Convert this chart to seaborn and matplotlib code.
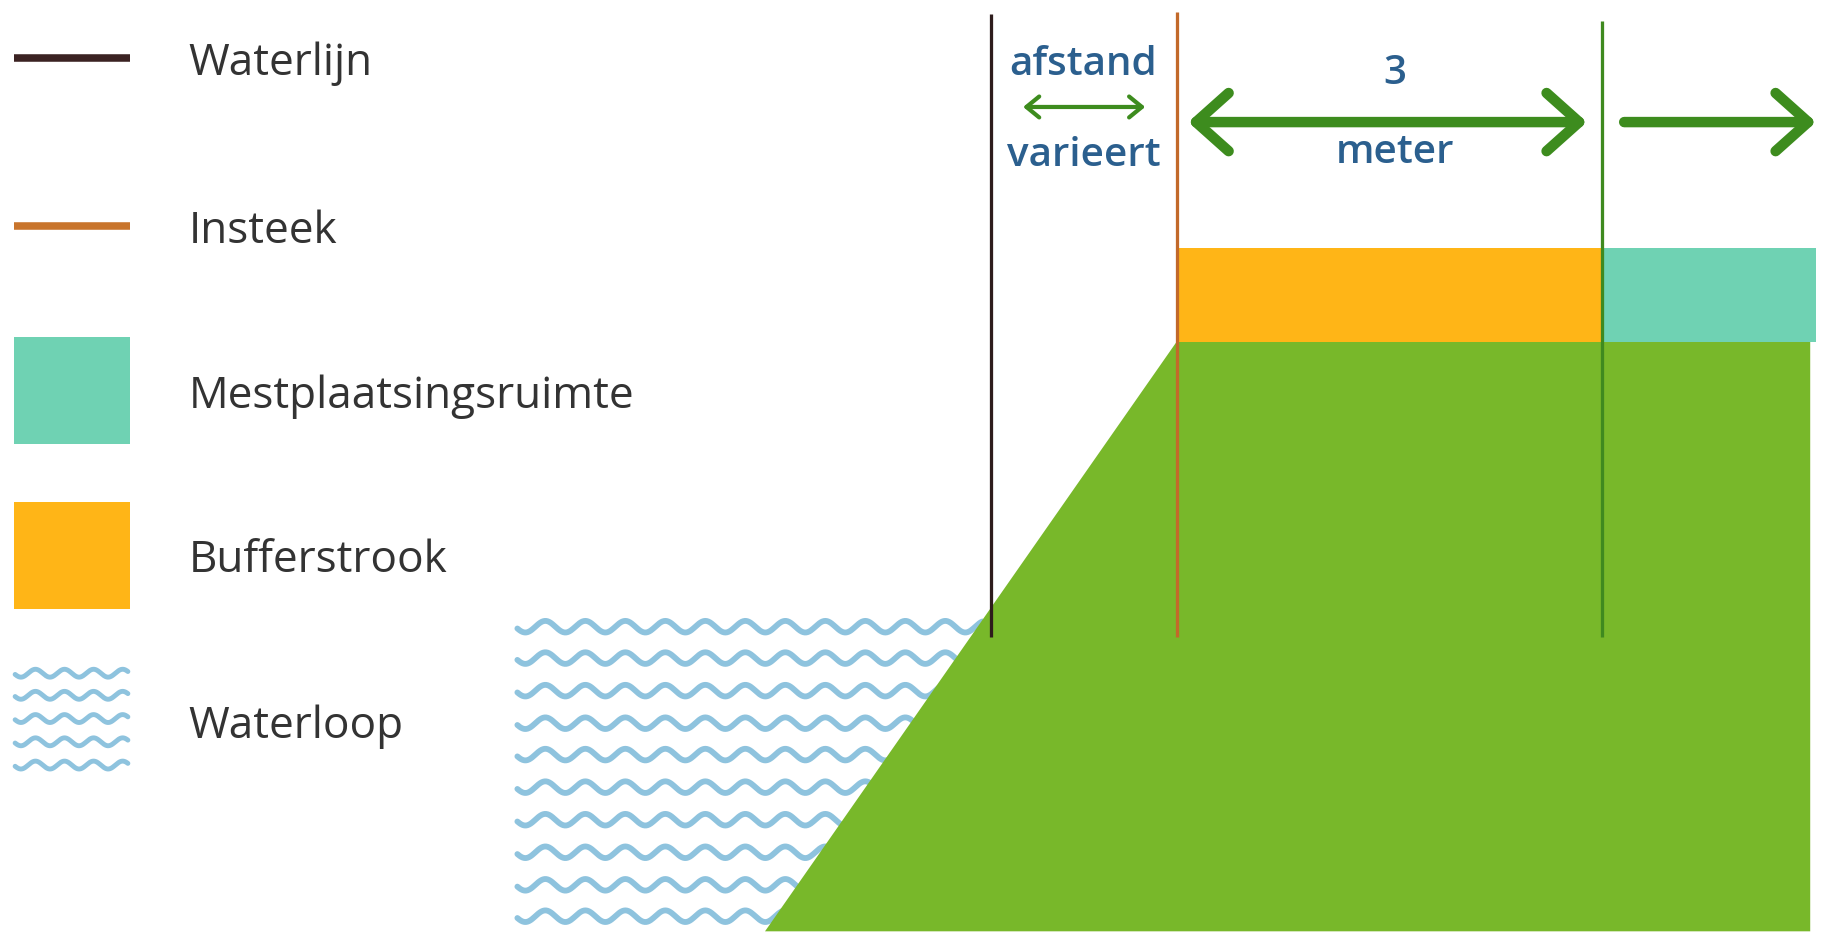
import numpy as np
import matplotlib
matplotlib.use("Agg")
import matplotlib.pyplot as plt
import seaborn as sns
from matplotlib.patches import Polygon, Rectangle, FancyArrowPatch

# ---------------- diagram content (reference units: 1568 x 803) ----------------
legend_labels = ["Waterlijn", "Insteek", "Mestplaatsingsruimte", "Bufferstrook", "Waterloop"]
legend_kinds = ["line", "line", "box", "box", "waves"]
legend_colors = ["#3b2222", "#c8742c", "#6fd2b3", "#ffb517", "#8ec3de"]
legend_y = [50, 194, 336, 478, 620]
legend_text_y = [55, 199, 341, 482, 625]

marker_x = [852, 1012, 1378]                     # Waterlijn, Insteek, grens bufferstrook
marker_colors = ["#2e1c1c", "#c2692a", "#3f8a1f"]
marker_top = [12, 10, 18]
marker_bottom = 548

band_x = [1012, 1378, 1562]                      # bufferstrook | mestplaatsingsruimte
band_colors = ["#ffb517", "#6fd2b3"]
band_top, band_bottom = 213, 294

land_x = [658, 1012, 1557, 1557]
land_y = [801, 294, 294, 801]
land_color = "#78b82a"

water_rows = [539, 566, 594, 622, 649, 677, 705, 733, 761, 788]
water_x = [445, 845]
icon_rows = [579, 598, 618, 638, 658]

arrow_specs = [  # x0, x1, y, style
    (880, 985, 92, "small2"),
    (1022, 1365, 105, "big2"),
    (1397, 1562, 105, "big1"),
]
annot_texts = ["afstand", "varieert", "3", "meter"]
annot_x = [932, 932, 1200, 1200]
annot_y = [56, 134, 64, 132]

# ---------------- styling ----------------
sns.set_theme(style="white")
plt.rcParams["font.family"] = ["Open Sans", "DejaVu Sans"]

W, H = 1568.0, 803.3
S = 1823.0 / W                      # display px per diagram unit
PT = S * 72 / 100                   # points per diagram unit

fig = plt.figure(figsize=(18.23, 9.34), dpi=100)
fig.patch.set_facecolor("white")
ax = fig.add_axes([0, 0, 1, 1])
ax.set_xlim(0, W)
ax.set_ylim(H, 0)
ax.axis("off")
renderer = fig.canvas.get_renderer()


def fit_size(text, target_w, weight="normal", base=30):
    t = ax.text(0, 0, text, fontsize=base, fontweight=weight)
    w = t.get_window_extent(renderer=renderer).width / S
    t.remove()
    return base * target_w / w


def wave(ax, x0, x1, y0, lam, amp, lw, color, z):
    xs = np.linspace(x0, x1, 600)
    ys = y0 - amp * np.cos(2 * np.pi * (xs - x0 - lam * 0.7) / lam)
    sns.lineplot(x=xs, y=ys, ax=ax, color=color, lw=lw, zorder=z,
                 solid_capstyle="round", sort=False, estimator=None)


legend_fs = fit_size("Mestplaatsingsruimte", 383)
annot_fs = fit_size("afstand", 127, weight="semibold")

# legend
for lab, kind, col, y, ty in zip(legend_labels, legend_kinds, legend_colors, legend_y, legend_text_y):
    if kind == "line":
        ax.plot([12, 112], [y, y], color=col, lw=6.5 * PT, solid_capstyle="butt")
    elif kind == "box":
        ax.add_patch(Rectangle((12, y - 46), 100, 92, color=col, lw=0))
    else:
        for r in icon_rows:
            wave(ax, 13, 110, r, 25, 3.4, 4.2 * PT, col, 2)
    ax.text(162, ty, lab, fontsize=legend_fs, color="#333333", va="center", ha="left")

# water
for r in water_rows:
    wave(ax, water_x[0], water_x[1], r, 34.4, 5.0, 5.0 * PT, "#8ec3de", 1)

# land + bands
ax.add_patch(Polygon(list(zip(land_x, land_y)), closed=True, color=land_color, lw=0, zorder=3))
for i, col in enumerate(band_colors):
    ax.add_patch(Rectangle((band_x[i], band_top), band_x[i + 1] - band_x[i],
                           band_bottom - band_top, color=col, lw=0, zorder=3))

# vertical marker lines
for x, col, t in zip(marker_x, marker_colors, marker_top):
    ax.plot([x, x], [t, marker_bottom], color=col, lw=2.8 * PT, zorder=4,
            solid_capstyle="butt")

# arrows
arrow_col = "#3d8c1e"
for x0, x1, y, st in arrow_specs:
    if st == "small2":
        style = "<->,head_length=%f,head_width=%f" % (11 * PT, 9 * PT)
        lw = 3.6 * PT
    elif st == "big2":
        style = "<->,head_length=%f,head_width=%f" % (28 * PT, 25 * PT)
        lw = 9 * PT
    else:
        style = "->,head_length=%f,head_width=%f" % (28 * PT, 25 * PT)
        lw = 9 * PT
    ax.add_patch(FancyArrowPatch((x0, y), (x1, y), arrowstyle=style, color=arrow_col,
                                 lw=lw, shrinkA=0, shrinkB=0, mutation_scale=1,
                                 capstyle="round", joinstyle="round", zorder=5))

# annotations
for t, x, y in zip(annot_texts, annot_x, annot_y):
    ax.text(x, y, t, fontsize=annot_fs, color="#2b5f8e", ha="center", va="center",
            fontweight="semibold", zorder=6)

fig.savefig("out.png", dpi=100, facecolor="white")
